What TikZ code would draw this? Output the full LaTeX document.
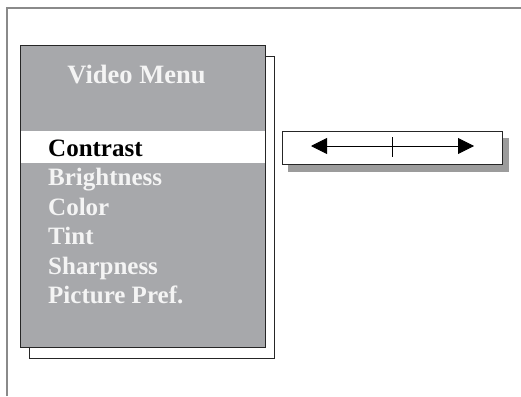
\documentclass[tikz,border=0pt]{standalone}
\usepackage{fontspec}
\setmainfont{Liberation Serif}
\usetikzlibrary{arrows.meta}
\definecolor{menugray}{HTML}{A7A8AB}
\definecolor{framegray}{HTML}{8A8A8A}
\definecolor{shadowgray}{HTML}{9C9C9C}
\definecolor{textwhite}{HTML}{F4F4F4}
\begin{document}
\begin{tikzpicture}[x=1pt,y=-1pt,
  item/.style={anchor=base west, inner sep=0pt, font=\fontsize{25}{29}\bfseries\selectfont, text=textwhite},
  boxr/.style={draw=black!85, line width=0.8pt, inner sep=0pt, anchor=north west},
  dbl/.style={{Triangle[length=16pt,width=16pt]}-{Triangle[length=16pt,width=16pt]}, line width=0.9pt}]
\useasboundingbox (0,0) rectangle (521,396);
% frame
\draw[framegray, line width=1.5pt] (7,396) -- (7,8) -- (521,8);
% menu back panel and menu
\node[boxr, fill=white, minimum width=245pt, minimum height=302pt] (back) at (29,56) {};
\node[boxr, fill=menugray, minimum width=245pt, minimum height=302pt] (menu) at (20,45) {};
\fill[white] (20.5,131) rectangle (264.5,163);
\node[item, anchor=base, font=\fontsize{26.5}{29}\bfseries\selectfont] (title) at (136.5,83) {Video Menu};
\node[item, text=black] (contrast) at (48,156) {Contrast};
\node[item] (bright) at (48,185.5) {Brightness};
\node[item] (color) at (48,215) {Color};
\node[item] (tint) at (48,244.5) {Tint};
\node[item] (sharp) at (48,274) {Sharpness};
\node[item] (pref) at (48,303) {Picture Pref.};
% slider
\fill[shadowgray] (288,138) rectangle (509,171.5);
\node[boxr, fill=white, line width=1pt, minimum width=220pt, minimum height=33pt] (slider) at (282,131) {};
\coordinate (l) at (311,146);
\coordinate (r) at (474,146);
\coordinate (tt) at (392,137);
\coordinate (tb) at (392,157);
\draw[dbl] (l) -- (r);
\draw[line width=0.6pt] (tt) -- (tb);
\end{tikzpicture}
\end{document}
